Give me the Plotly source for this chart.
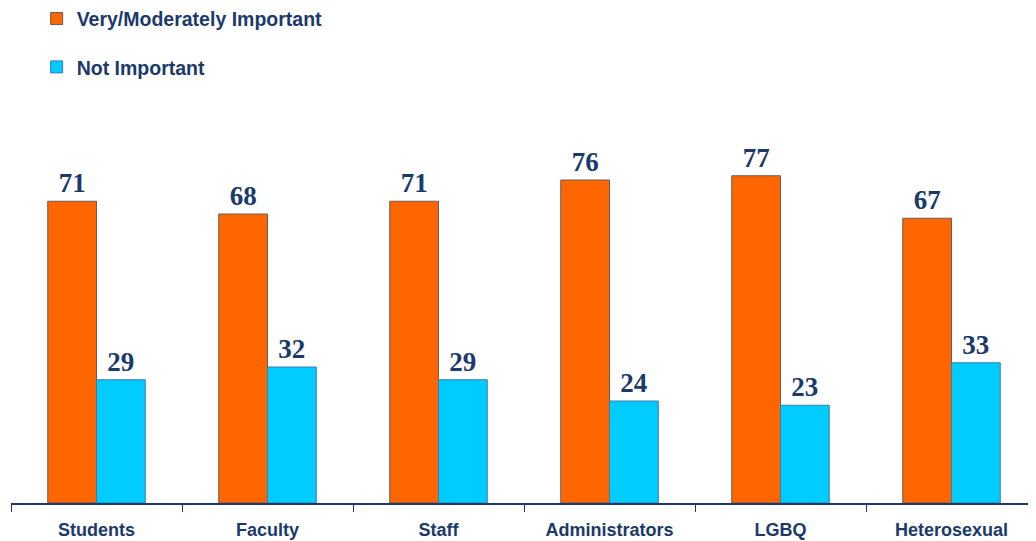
import plotly.graph_objects as go

categories = ["Students", "Faculty", "Staff", "Administrators", "LGBQ", "Heterosexual"]
important = [71, 68, 71, 76, 77, 67]
not_important = [29, 32, 29, 24, 23, 33]
series_names = ["Very/Moderately Important", "Not Important"]

navy = "#1B3A6B"
label_font = dict(family="Liberation Serif", size=27, color=navy, weight="bold")

fig = go.Figure()
fig.add_trace(go.Bar(
    x=categories, y=important, name=series_names[0], legendgroup="a",
    marker=dict(color="#FF6600", line=dict(color="#6B5A55", width=1)),
    text=important, textposition="outside", cliponaxis=False,
    textfont=label_font,
))
fig.add_trace(go.Bar(
    x=categories, y=not_important, name=series_names[1], legendgroup="b",
    marker=dict(color="#00CCFF", line=dict(color="#3A7CB0", width=1)),
    text=not_important, textposition="outside", cliponaxis=False,
    textfont=label_font,
))

fig.update_layout(
    width=1036, height=541,
    margin=dict(l=3, r=7, t=70, b=46, autoexpand=False),
    plot_bgcolor="white", paper_bgcolor="white",
    barmode="group", bargap=0.43, bargroupgap=0,
    showlegend=True,
    legend=dict(
        x=0.025, y=1.185, xanchor="left", yanchor="top",
        font=dict(family="Liberation Sans", size=19.5, color=navy, weight="bold"),
        tracegroupgap=20, itemwidth=30,
        bgcolor="rgba(0,0,0,0)",
    ),
    font=dict(family="Liberation Sans", color=navy),
)
fig.update_xaxes(
    showline=True, linecolor=navy, linewidth=1.5,
    ticks="outside", tickson="boundaries", ticklen=7, tickcolor=navy,
    ticklabelstandoff=10,
    tickfont=dict(family="Liberation Sans", size=18, color=navy, weight="bold"),
)
fig.update_yaxes(range=[0, 100], visible=False, showgrid=False)

fig.write_html("out.html")
